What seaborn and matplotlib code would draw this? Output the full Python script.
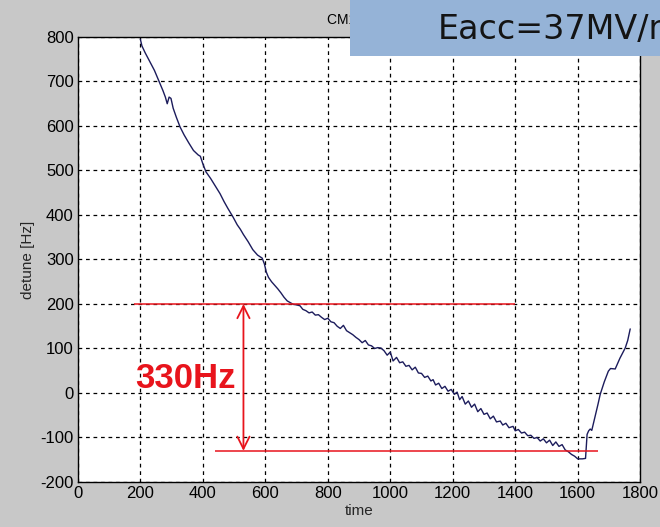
import matplotlib
matplotlib.use("Agg")
import matplotlib.pyplot as plt
from matplotlib.patches import Rectangle
import seaborn as sns
import pandas as pd

# Detuning trace during the measurement
time = [200, 205, 215, 230, 245, 260, 272, 280, 286, 292, 298, 305, 315, 327, 340,
        355, 370, 385, 392, 400, 410, 425, 440, 455, 468, 480, 497, 510, 520, 530,
        545, 560, 575, 590, 597, 603, 610, 620, 630, 640, 650, 660, 670, 680, 690,
        700, 711, 720, 730, 740, 750, 760, 770, 780, 790, 800, 810, 820, 830, 840,
        850, 860, 871, 880, 890, 900, 910, 920, 930, 940, 950, 960, 970, 980, 990,
        1000, 1009, 1020, 1030, 1040, 1050, 1060, 1070, 1080, 1090, 1100, 1110, 1120,
        1130, 1137, 1145, 1155, 1165, 1175, 1185, 1195, 1205, 1214, 1222, 1230, 1240,
        1250, 1260, 1270, 1280, 1290, 1300, 1310, 1320, 1330, 1340, 1352, 1360, 1370,
        1380, 1393, 1400, 1410, 1420, 1430, 1440, 1450, 1460, 1470, 1480, 1490, 1500,
        1510, 1520, 1530, 1540, 1550, 1560, 1570, 1580, 1590, 1600, 1615, 1625, 1630,
        1635, 1640, 1645, 1655, 1665, 1672, 1685, 1698, 1705, 1720, 1735, 1752, 1760,
        1768]
detune = [795, 780, 765, 745, 725, 700, 680, 665, 650, 665, 662, 640, 620, 598, 580,
          562, 545, 535, 532, 515, 497, 482, 465, 448, 430, 415, 395, 378, 368, 356,
          340, 322, 310, 303, 290, 272, 260, 250, 242, 234, 225, 215, 207, 203, 199,
          198, 196, 188, 185, 180, 182, 175, 176, 170, 165, 168, 160, 158, 150, 145,
          152, 140, 135, 131, 125, 120, 113, 118, 108, 106, 100, 102, 101, 95, 85,
          92, 72, 80, 68, 70, 60, 62, 52, 58, 45, 44, 35, 38,
          27, 30, 18, 22, 10, 15, 4, 8, -3, 2, -15, -8, -25,
          -18, -32, -25, -42, -35, -48, -45, -58, -52, -65, -63, -72, -68,
          -78, -75, -85, -82, -90, -88, -96, -95, -102, -100, -108, -103, -112,
          -106, -118, -110, -120, -116, -128, -132, -138, -142, -148, -148, -147, -93,
          -85, -81, -84, -55, -25, -3, 25, 49, 55, 54, 78, 101, 118,
          144]

# Reference levels for the detuning swing
upper_level = 200
upper_span = [180, 1400]
lower_level = -130
lower_span = [440, 1665]
arrow_time = 530
swing_label = "330Hz"

x_ticks = list(range(0, 1801, 200))
y_ticks = list(range(-200, 801, 100))

sns.set_style("white")
plt.rcParams["font.family"] = ["Liberation Sans", "DejaVu Sans"]
plt.rcParams["axes.unicode_minus"] = False

bg = "#c8c8c8"
fig = plt.figure(figsize=(6.6, 5.27), dpi=100, facecolor=bg)
ax = fig.add_axes([0.118, 0.0854, 0.852, 0.8444])
ax.set_facecolor("white")

df = pd.DataFrame({"time": time, "detune": detune})
sns.lineplot(data=df, x="time", y="detune", ax=ax, color="#1c1c5c", lw=1.0,
             sort=False, estimator=None)

ax.set_xlim(0, 1800)
ax.set_ylim(-200, 800)
ax.set_xticks(x_ticks)
ax.set_yticks(y_ticks)
ax.tick_params(direction="in", length=4, labelsize=12, colors="black",
               pad=3, top=False, right=False)
ax.set_xlabel("time", fontsize=11, labelpad=2)
ax.set_ylabel("detune [Hz]", fontsize=11, labelpad=4)
ax.grid(True, color="black", linestyle=(0, (3, 3)), lw=0.9)
for s in ax.spines.values():
    s.set_color("black")
    s.set_linewidth(1.0)
    s.set_visible(True)

red = "#e8141c"
ax.hlines(upper_level, upper_span[0], upper_span[1], color=red, lw=1.1, zorder=4)
ax.hlines(lower_level, lower_span[0], lower_span[1], color=red, lw=1.1, zorder=4)
ax.annotate("", xy=(arrow_time, upper_level), xytext=(arrow_time, lower_level),
            arrowprops=dict(arrowstyle="<->", color=red, lw=1.3,
                            mutation_scale=22, shrinkA=0, shrinkB=0), zorder=4)
ax.text(183, (upper_level + lower_level) / 2 - 2, swing_label, color=red,
        fontsize=25, fontweight="bold", va="center", ha="left", zorder=5)

# Title partly hidden under the field-gradient box
fig.text(327 / 660, 1 - 20 / 527, "CM1 cavity", fontsize=10, va="center",
         ha="left", color="black")
fig.patches.append(Rectangle((350 / 660, 1 - 56 / 527), 1, 56 / 527,
                             transform=fig.transFigure, facecolor="#95b3d7",
                             edgecolor="none", zorder=10))
fig.text(438 / 660, 1 - 39 / 527, "Eacc=37MV/m", fontsize=24,
         family="DejaVu Sans", color="#141414", va="baseline", ha="left",
         zorder=11)

fig.savefig("out.png", dpi=100, facecolor=bg)
